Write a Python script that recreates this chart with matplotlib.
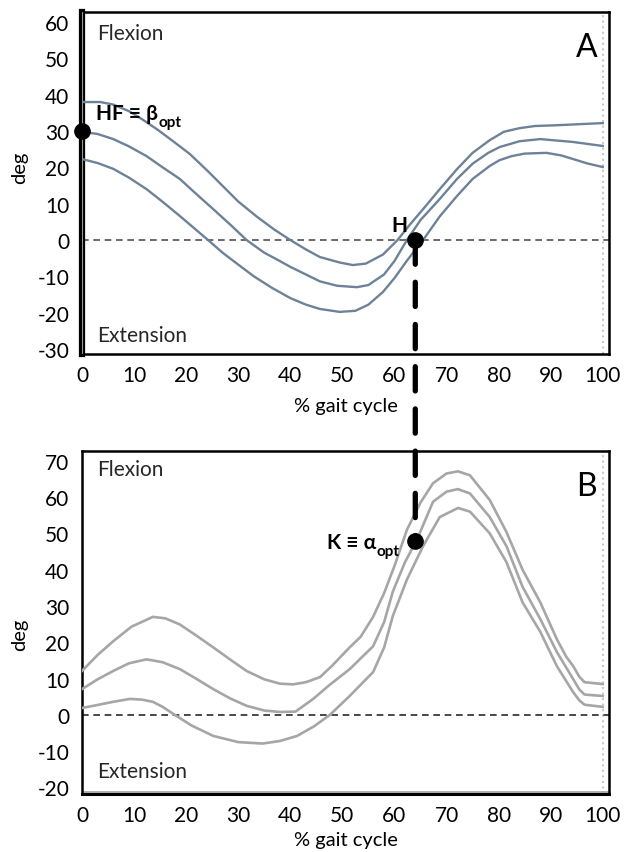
import numpy as np
import matplotlib
matplotlib.use("Agg")
import matplotlib.pyplot as plt
from matplotlib.patches import ConnectionPatch

plt.rcParams['font.family'] = ['Lato', 'DejaVu Sans']
plt.rcParams['axes.unicode_minus'] = False

# hip flexion/extension (panel A): mean and +/- band
hip_upper_x = [0, 3.5, 6, 9, 11.5, 14.4, 17.5, 20.7, 24, 27, 30, 33.6, 37, 40, 43, 45.7,
               49.5, 52, 54.5, 57.8, 60.6, 63, 65.5, 68.7, 72, 75, 78.3, 81, 84, 87, 91, 100]
hip_upper_y = [38.0, 38.0, 37.3, 35.5, 33.3, 30.5, 27.2, 23.7, 19.2, 14.9, 10.6, 6.4, 2.8, 0,
               -2.6, -4.7, -6.2, -6.9, -6.5, -4.0, 0, 4.3, 8.5, 14.0, 19.5, 24.0, 27.5, 29.8,
               30.8, 31.4, 31.6, 32.2]
hip_mean_x = [0, 3, 6, 9, 12.4, 15.5, 18.8, 22, 25.2, 28.5, 31.6, 35, 38, 40, 42, 45.7, 49,
              52.8, 55, 58, 60, 62.4, 65, 68.7, 72, 75, 78, 80.2, 84, 88, 94.3, 100]
hip_mean_y = [29.8, 29.2, 27.8, 25.8, 23.1, 20.0, 16.8, 12.6, 8.5, 4.2, 0, -3.5, -5.8, -7.4,
              -8.8, -11.4, -12.6, -13.0, -12.4, -9.5, -5.8, 0, 5.5, 11.3, 16.8, 21.0, 24.0,
              25.6, 27.2, 27.8, 27.0, 25.9]
hip_lower_x = [0, 3, 6, 9, 12.4, 15.5, 18.8, 21.5, 24.2, 27, 30.3, 33, 36.5, 40, 43, 45.7,
               49.5, 52.5, 55, 57.8, 60, 62.5, 65.5, 68.7, 72, 75, 78.3, 80.2, 82.5, 85, 89.2,
               92, 94.3, 97, 100]
hip_lower_y = [22.3, 21.2, 19.6, 17.2, 14.0, 10.5, 6.6, 3.3, 0, -3.5, -7.1, -10.0, -13.2,
               -16.0, -17.8, -19.0, -19.8, -19.5, -17.8, -14.3, -10.5, -5.5, 0, 6.5, 12.1,
               16.8, 20.4, 22.0, 23.1, 23.8, 24.0, 23.3, 22.3, 21.1, 20.1]

# knee flexion/extension (panel B)
knee_upper_x = [0, 3, 6, 9.5, 13.6, 16, 18.8, 22, 25.2, 28.5, 31.6, 35, 38, 40.5, 43, 45.7,
                48, 51.4, 53.5, 55.9, 58, 60, 62.4, 65, 67.4, 70, 72.2, 74.5, 78.3, 81.5,
                84.6, 88, 91.2, 93, 94.3, 95.5, 96.5, 100]
knee_upper_y = [12.1, 16.5, 20.3, 24.3, 27.0, 26.6, 24.9, 21.8, 18.6, 15.2, 12.1, 9.8, 8.6,
                8.4, 9.0, 10.4, 13.5, 18.6, 21.5, 27.0, 33.5, 41.0, 51.0, 58.5, 63.8, 66.5,
                67.1, 66.0, 59.2, 50.4, 40.0, 31.0, 20.8, 16.0, 13.5, 10.5, 9.0, 8.5]
knee_mean_x = [0, 3, 6, 9, 12.4, 15.5, 18.8, 22, 25.2, 28.5, 31.6, 35, 38, 41, 44.4, 47.5,
               51.4, 55.9, 58, 59.7, 62, 64.3, 67.4, 70, 72.2, 74.5, 78.3, 81.5, 84.6, 88,
               91.2, 94.3, 95.5, 96.5, 100]
knee_mean_y = [7.1, 9.8, 12.1, 14.2, 15.3, 14.5, 12.6, 9.9, 7.1, 4.5, 2.5, 1.2, 0.8, 0.9, 4.4,
               8.2, 12.6, 18.9, 25.5, 34.0, 42.0, 48.2, 58.7, 61.5, 62.2, 61.0, 54.5, 46.5,
               35.3, 26.4, 17.3, 9.9, 7.0, 5.6, 5.2]
knee_lower_x = [0, 2.9, 6, 9.2, 11.5, 13.6, 15.5, 17.5, 21, 25.2, 30, 34.7, 38, 41.3, 44.5,
                47.6, 51.4, 55.9, 58, 59.7, 62.4, 65.5, 68.7, 72.2, 74.5, 78.3, 81.5, 84.6,
                88, 91.2, 94.3, 95.5, 96.5, 100]
knee_lower_y = [1.9, 2.7, 3.6, 4.4, 4.2, 3.6, 2.2, 0.3, -2.9, -5.8, -7.5, -7.9, -7.2, -5.8,
                -3.2, 0, 5.2, 11.8, 18.5, 27.3, 37.3, 46.5, 54.5, 57.0, 56.0, 50.0, 42.1,
                31.0, 22.9, 13.4, 6.3, 4.0, 2.8, 2.2]

gait_ticks = list(range(0, 101, 10))
hip_ticks = list(range(-30, 61, 10))
knee_ticks = list(range(-20, 71, 10))

hf_point = (0, 30)
h_point = (64, 0)
k_point = (64, 48)

fig = plt.figure(figsize=(6.37, 8.53), dpi=100)
W, H = 637, 853
ax1 = fig.add_axes([82 / W, 1 - 355 / H, 527 / W, 342 / H])
ax2 = fig.add_axes([82 / W, 1 - 795 / H, 527 / W, 343 / H])

hip_col = '#6d8298'
knee_col = '#a6a6a6'

for xs, ys in [(hip_upper_x, hip_upper_y), (hip_mean_x, hip_mean_y), (hip_lower_x, hip_lower_y)]:
    ax1.plot(xs, ys, color=hip_col, lw=1.7, solid_joinstyle='round', zorder=3)
for xs, ys in [(knee_upper_x, knee_upper_y), (knee_mean_x, knee_mean_y), (knee_lower_x, knee_lower_y)]:
    ax2.plot(xs, ys, color=knee_col, lw=1.9, solid_joinstyle='round', zorder=3)

ax1.set_ylim(-31.4, 62.8)
ax2.set_ylim(-21.8, 72.7)
ax1.set_yticks(hip_ticks)
ax2.set_yticks(knee_ticks)

for ax, zc in [(ax1, '#505050'), (ax2, '#2a2a2a')]:
    ax.set_xlim(0, 101.2)
    ax.set_xticks(gait_ticks)
    ax.axhline(0, color=zc, lw=1.2, ls=(0, (4, 2.8)), zorder=2)
    ax.axvline(100, color='#c8c8c8', lw=1.5, ls=':', zorder=1)
    ax.tick_params(length=0, labelsize=15, pad=9)
    ax.tick_params(axis='x', pad=8)
    for s in ax.spines.values():
        s.set_linewidth(1.8)
        s.set_color('black')
    ax.set_xlabel('% gait cycle', fontsize=14.5)
    ax.set_ylabel('deg', fontsize=14.5)
    ax.text(0.028, 0.94 if ax is ax1 else 0.948, 'Flexion', transform=ax.transAxes,
            fontsize=15, va='center', ha='left', color='#262626')
    ax.text(0.028, 0.056 if ax is ax1 else 0.067, 'Extension', transform=ax.transAxes,
            fontsize=15, va='center', ha='left', color='#262626')

ax1.xaxis.set_label_coords(0.5, -0.125)
ax2.xaxis.set_label_coords(0.5, -0.107)
ax1.yaxis.set_label_coords(-0.1025, 0.547)
ax2.yaxis.set_label_coords(-0.1025, 0.466)

# panel A special spines
ax1.spines['left'].set_linewidth(4.5)
ax1.axvline(0, color='#9a9a9a', lw=0.8, zorder=4)
ax2.spines['bottom'].set_linewidth(2.2)
ax2.axhline(-21.2, color='#a0a0a0', lw=1.2, zorder=1)

ax1.text(0.958, 0.898, 'A', transform=ax1.transAxes, fontsize=23, ha='center', va='center')
ax2.text(0.958, 0.898, 'B', transform=ax2.transAxes, fontsize=23, ha='center', va='center')

# points and labels
ax1.plot(*hf_point, 'o', color='black', ms=11, zorder=6, clip_on=False)
ax1.plot(*h_point, 'o', color='black', ms=11, zorder=6)
ax2.plot(*k_point, 'o', color='black', ms=11, zorder=6)

t_hf = ax1.text(2.7, 35.0, 'HF ≡ β', fontsize=15, weight='bold', va='center', ha='left')
ax1.annotate('opt', xy=(1, 0.05), xycoords=t_hf, xytext=(0.5, 0), textcoords='offset points',
             fontsize=11, weight='bold', va='center', ha='left')
ax1.text(61, 4.1, 'H', fontsize=15, weight='bold', va='center', ha='center')
t_k = ax2.text(56.5, 47.7, 'K ≡ α', fontsize=15, weight='bold', va='center', ha='right')
ax2.annotate('opt', xy=(1, 0.05), xycoords=t_k, xytext=(0.5, 0), textcoords='offset points',
             fontsize=11, weight='bold', va='center', ha='left')

con = ConnectionPatch(xyA=h_point, coordsA=ax1.transData, xyB=k_point, coordsB=ax2.transData,
                      color='black', lw=3.8, ls=(0, (4.6, 3.4)), zorder=5)
fig.add_artist(con)

fig.savefig('out.png', dpi=100)
